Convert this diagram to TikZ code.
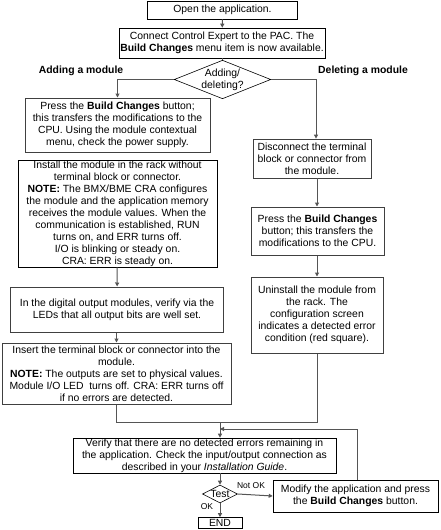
\documentclass[tikz,border=0pt]{standalone}
\usepackage{fontspec}
\setmainfont{Liberation Sans}
\usetikzlibrary{shapes.geometric,arrows.meta}
\definecolor{linegray}{HTML}{555555}
\definecolor{boxgray}{HTML}{404040}
\newcommand{\fsz}{\fontsize{10.4}{12}\selectfont}
\begin{document}
\begin{tikzpicture}[x=1pt,y=-1pt,
  bbox/.style={draw=black, line width=0.6pt, inner sep=0pt, align=center, font=\fsz},
  gbox/.style={draw=boxgray, line width=1pt, inner sep=0pt, align=center, font=\fsz},
  dbox/.style={diamond, draw=black, line width=0.6pt, inner sep=0pt, align=center, font=\fsz},
  conn/.style={draw=linegray, line width=1pt},
  arr/.style={conn, -{Triangle[length=4pt,width=4pt]}},
  lbl/.style={inner sep=0pt, font=\fontsize{8.5}{10}\selectfont}
]
\useasboundingbox (0,0) rectangle (440,530);

\node[bbox, minimum width=150, minimum height=18] (open) at (222.5,10) {Open the application.};
\node[bbox, minimum width=206, minimum height=30] (conn) at (222,43)
  {Connect Control Expert to the PAC. The\\ \textbf{Build Changes} menu item is now available.};
\node[dbox, minimum width=93, minimum height=37, aspect=2.5] (dia) at (222.5,79.5)
  {Adding/\\ deleting?};
\node[inner sep=0pt, font=\fsz\bfseries] (addl) at (81,71) {Adding a module};
\node[inner sep=0pt, font=\fsz\bfseries] (dell) at (363,71) {Deleting a module};

\node[gbox, minimum width=185, minimum height=54] (pressL) at (117.5,125)
  {Press the \textbf{Build Changes} button;\\ this transfers the modifications to the\\ CPU. Using the module contextual\\ menu, check the power supply.};
\node[bbox, minimum width=199, minimum height=107] (inst) at (117.5,213.5)
  {Install the module in the rack without\\ terminal block or connector.\\ \textbf{NOTE:} The BMX/BME CRA configures\\ the module and the application memory\\ receives the module values. When the\\ communication is established, RUN\\ turns on, and ERR turns off.\\ I/O is blinking or steady on.\\ CRA: ERR is steady on.};
\node[gbox, minimum width=213, minimum height=45] (dig) at (117,309.5)
  {In the digital output modules, verify via the\\ LEDs that all output bits are well set.};
\node[gbox, minimum width=229, minimum height=61] (ins) at (116.5,373.5)
  {Insert the terminal block or connector into the\\ module.\\ \textbf{NOTE:} The outputs are set to physical values.\\ Module I/O LED\ \ turns off. CRA: ERR turns off\\ if no errors are detected.};

\node[gbox, line width=0.8pt, minimum width=118, minimum height=39] (disc) at (312,158.5)
  {Disconnect the terminal\\ block or connector from\\ the module.};
\node[gbox, minimum width=133, minimum height=48] (pressR) at (317.5,231)
  {Press the \textbf{Build Changes}\\ button; this transfers the\\ modifications to the CPU.};
\node[gbox, minimum width=132, minimum height=76] (unin) at (317,315)
  {Uninstall the module from\\ the rack. The\\ configuration screen\\ indicates a detected error\\ condition (red square).};

\node[bbox, minimum width=263, minimum height=35] (ver) at (204.5,455.5)
  {Verify that there are no detected errors remaining in\\ the application. Check the input/output connection as\\ described in your \textit{Installation Guide}.};
\node[dbox, minimum width=35, minimum height=18, aspect=2] (test) at (220,494) {Test};
\node[bbox, minimum width=44, minimum height=11] (end) at (220,523) {END};
\node[bbox, minimum width=165, minimum height=32] (mod) at (355.5,496)
  {Modify the application and press\\ the \textbf{Build Changes} button.};

\node[lbl] (notok) at (251,486) {Not OK};
\node[lbl] (ok) at (207,507) {OK};

% connectors
\draw[arr] (open) -- (conn);
\draw[conn] (conn.south -| dia.north) -- (dia.north);
\draw[arr] (dia.west) -| (pressL.north);
\draw[arr] (dia.east) -| ([xshift=4pt]disc.north);
\draw[arr] (inst) -- (dig);
\draw[arr] (dig.south -| ins.north) -- (ins.north);
\draw[arr] ([xshift=5pt]disc.south) -- ([xshift=5pt]disc.south |- pressR.north);
\draw[arr] (pressR.south -| unin.north) -- (unin.north);

\coordinate (jl) at (116.5,422);
\coordinate (jm) at (220,422);
\coordinate (jr) at (317,422);
\draw[conn] (ins.south) -- (jl) -- (jr) -- (unin.south);
\draw[arr] (jm) -- (jm |- ver.north);
\draw[arr] (test.north |- ver.south) -- (test.north);
\draw[arr] (test.south) -- (end.north);
\draw[arr] (test.east) -- (mod.west);
\coordinate (fb) at (357,429);
\coordinate (fbend) at (220,429);
\draw[arr] (mod.north -| fb) -- (fb) -- (fbend);
\end{tikzpicture}
\end{document}
